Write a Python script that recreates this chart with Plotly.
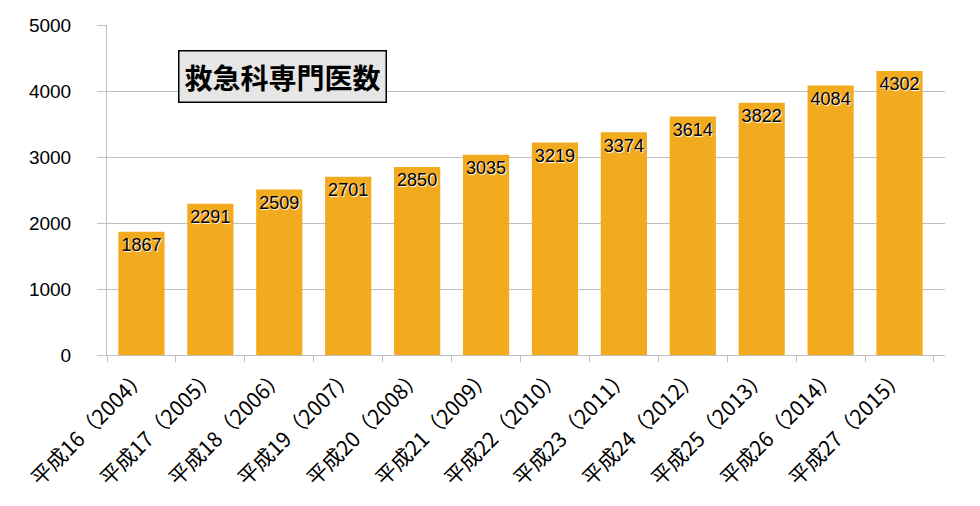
import plotly.graph_objects as go

categories = [
    "平成16（2004）", "平成17（2005）", "平成18（2006）", "平成19（2007）",
    "平成20（2008）", "平成21（2009）", "平成22（2010）", "平成23（2011）",
    "平成24（2012）", "平成25（2013）", "平成26（2014）", "平成27（2015）",
]
doctors = [1867, 2291, 2509, 2701, 2850, 3035, 3219, 3374, 3614, 3822, 4084, 4302]
y_ticks = [0, 1000, 2000, 3000, 4000, 5000]

fig = go.Figure(
    go.Bar(
        x=categories,
        y=doctors,
        text=doctors,
        textposition="inside",
        insidetextanchor="end",
        textangle=0,
        textfont=dict(family="Liberation Sans, Arial", size=20, color="black",
                      shadow="1px 1px 1px white"),
        marker=dict(color="#F2AA1E", line=dict(width=0)),
        width=0.67,
    )
)

# the page body adds 8px around the figure, so margins are shifted by that
fig.update_layout(
    width=980,
    height=506,
    margin=dict(l=99, r=43, t=17, b=159),
    plot_bgcolor="white",
    paper_bgcolor="white",
    showlegend=False,
    font=dict(family="Liberation Sans, Arial", color="black"),
    xaxis=dict(
        type="category",
        range=[-0.5, 11.66],
        automargin=False,
        tickangle=-45,
        tickson="boundaries",
        ticks="outside",
        ticklen=6,
        tickcolor="#BFBFBF",
        showline=True,
        linecolor="#BFBFBF",
        showgrid=False,
        tickfont=dict(family="Noto Sans CJK JP", size=21, color="black"),
    ),
    yaxis=dict(
        range=[0, 5000],
        tickvals=y_ticks,
        automargin=False,
        ticks="outside",
        ticklen=9,
        tickcolor="#BFBFBF",
        showline=True,
        linecolor="#BFBFBF",
        gridcolor="#BFBFBF",
        zeroline=False,
        ticklabelstandoff=22,
        tickfont=dict(family="Liberation Sans, Arial", size=19, color="black"),
    ),
    annotations=[
        dict(
            text="救急科専門医数",
            xref="paper", yref="paper",
            x=0.209, y=0.843,
            xanchor="center", yanchor="middle",
            showarrow=False,
            font=dict(family="Noto Sans CJK JP", size=28, color="black", weight=600),
            bgcolor="#E6E6E6",
            bordercolor="black",
            borderwidth=1.5,
            borderpad=5,
        )
    ],
)

fig.write_html("out.html")
